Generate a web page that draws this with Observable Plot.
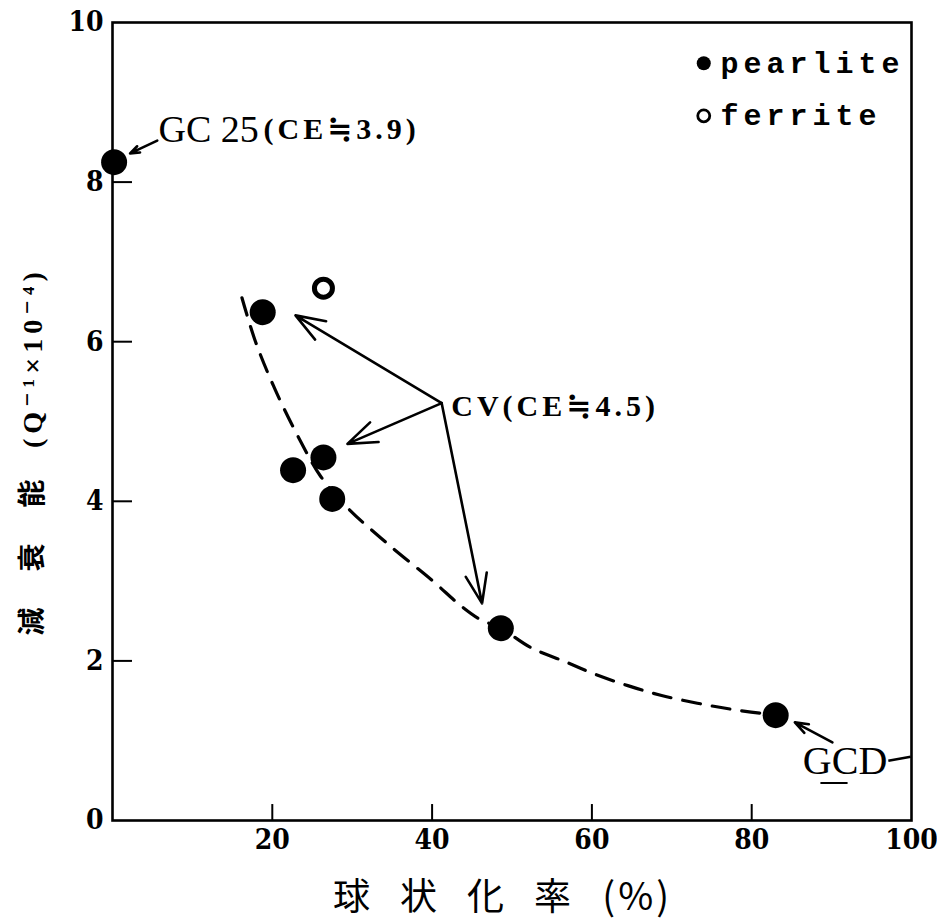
<!DOCTYPE html>
<html>
<head>
<meta charset="utf-8">
<script src="https://cdn.jsdelivr.net/npm/d3@7"></script>
<script src="https://cdn.jsdelivr.net/npm/@observablehq/plot@0.6"></script>
<style>
  body { margin: 0; background: #fff; }
  #chart svg { display: block; }
</style>
</head>
<body>
<div id="chart"></div>
<script>
// ---- data ----
const xTicks = [20, 40, 60, 80, 100];
const yTicks = [0, 2, 4, 6, 8, 10];

// pearlite (filled dots)
const pearliteX = [0.2, 18.8, 22.6, 26.4, 27.5, 48.6, 83.0];
const pearliteY = [8.25, 6.37, 4.39, 4.55, 4.03, 2.41, 1.32];

// ferrite (open circle)
const ferriteX = [26.4];
const ferriteY = [6.67];

// dashed trend curve
const curveX = [16.2, 17.9, 20.4, 23.5, 26.0, 29.4, 34.4, 40.1, 43.6, 46.0, 48.6, 52.3, 56.9, 60.2, 64.5, 68.6, 73.2, 77.7, 83.0];
const curveY = [6.55, 6.00, 5.39, 4.76, 4.32, 3.92, 3.47, 3.00, 2.69, 2.52, 2.41, 2.17, 1.98, 1.84, 1.69, 1.57, 1.47, 1.39, 1.32];

// annotation arrows [x1, y1, x2, y2]
const arrowX1 = [5.6, 41.2, 41.2, 41.2, 90.1];
const arrowY1 = [8.52, 5.23, 5.23, 5.23, 0.98];
const arrowX2 = [2.2, 22.9, 29.4, 46.25, 85.4];
const arrowY2 = [8.36, 6.33, 4.72, 2.72, 1.23];

// legend
const legendLabels = ["pearlite", "ferrite"];
const legendX = [74, 74];
const legendY = [9.49, 8.83];

// ---- build tables ----
const pearlite = pearliteX.map((x, i) => ({x, y: pearliteY[i]}));
const ferrite = ferriteX.map((x, i) => ({x, y: ferriteY[i]}));
const curve = curveX.map((x, i) => ({x, y: curveY[i]}));
const arrows = arrowX1.map((x1, i) => ({x1, y1: arrowY1[i], x2: arrowX2[i], y2: arrowY2[i]}));
const legend = legendLabels.map((label, i) => ({label, x: legendX[i], y: legendY[i]}));

const serif = "'Liberation Serif', 'DejaVu Serif', serif";
const tickFont = "'DejaVu Serif Condensed', 'DejaVu Serif', serif";
const cjk = "'Noto Sans CJK JP', 'Noto Sans CJK SC', sans-serif";

const svg = Plot.plot({
  width: 937,
  height: 923,
  marginLeft: 112,
  marginRight: 26,
  marginTop: 22,
  marginBottom: 103,
  style: {background: "#fff", color: "#000", overflow: "visible"},
  x: {domain: [0, 100]},
  y: {domain: [0, 10]},
  marks: [
    Plot.frame({stroke: "#000", strokeWidth: 2.6}),
    // inward ticks
    Plot.ruleX(xTicks.slice(0, 4), {x: d => d, y1: 0, y2: 0.2, stroke: "#000", strokeWidth: 2}),
    Plot.ruleY(yTicks.slice(1, 5), {y: d => d, x1: 0, x2: 2.5, stroke: "#000", strokeWidth: 2}),
    Plot.axisX(xTicks, {tickSize: 0, tickPadding: 9, label: null, tickFormat: "d", fontSize: 28, fontWeight: "bold", fontFamily: tickFont}),
    Plot.axisY(yTicks, {tickSize: 0, tickPadding: 9, label: null, tickFormat: "d", fontSize: 28, fontWeight: "bold", fontFamily: tickFont}),
    // axis titles
    Plot.text(["球状化率"], {x: () => 27.6, y: () => -0.97, textAnchor: "start", fontSize: 37, fontFamily: cjk}),
    Plot.text(["(%)"], {x: () => 61.3, y: () => -0.97, textAnchor: "start", fontSize: 38, fontFamily: cjk}),
    Plot.text(["減　衰　能"], {x: () => -10.0, y: () => 3.32, rotate: -90, fontSize: 28, fontWeight: "bold", fontFamily: cjk}),
    Plot.text(["(Q⁻¹×10⁻⁴)"], {x: () => -10.0, y: () => 5.8, rotate: -90, fontSize: 28, fontWeight: "bold", fontFamily: serif}),
    // dashed curve
    Plot.line(curve, {x: "x", y: "y", curve: "catmull-rom", stroke: "#000", strokeWidth: 3.2, strokeDasharray: "18,12"}),
    // arrows
    Plot.arrow(arrows, {x1: "x1", y1: "y1", x2: "x2", y2: "y2", stroke: "#000", strokeWidth: 2.6, headLength: 18, headAngle: 40}),
    // points
    Plot.dot(pearlite, {x: "x", y: "y", r: 13, fill: "#000", stroke: "none"}),
    Plot.dot(ferrite, {x: "x", y: "y", r: 9, fill: "none", stroke: "#000", strokeWidth: 5}),
    // annotations
    Plot.text(["GC 25"], {x: () => 5.75, y: () => 8.66, textAnchor: "start", fontSize: 38, fontFamily: serif}),
    Plot.text(["(CE≒3.9)"], {x: () => 18.9, y: () => 8.66, textAnchor: "start", fontSize: 30, fontWeight: "bold", fontFamily: serif}),
    Plot.text(["CV(CE≒4.5)"], {x: () => 42.4, y: () => 5.19, textAnchor: "start", fontSize: 30, fontWeight: "bold", fontFamily: serif}),
    Plot.text(["GCD"], {x: () => 86.4, y: () => 0.74, textAnchor: "start", fontSize: 40, fontFamily: serif}),
    Plot.link([{x1: 97.1, y1: 0.75, x2: 99.9, y2: 0.8}], {x1: "x1", y1: "y1", x2: "x2", y2: "y2", stroke: "#000", strokeWidth: 2.5}),
    Plot.link([{x1: 88.6, y1: 0.47, x2: 92.0, y2: 0.47}], {x1: "x1", y1: "y1", x2: "x2", y2: "y2", stroke: "#000", strokeWidth: 2}),
    // legend
    Plot.dot(legend.slice(0, 1), {x: "x", y: "y", r: 7, fill: "#000"}),
    Plot.dot(legend.slice(1), {x: "x", y: "y", r: 6, fill: "none", stroke: "#000", strokeWidth: 2.8}),
    Plot.text(legend, {x: d => d.x + 2.1, y: "y", text: "label", textAnchor: "start", fontSize: 30, fontWeight: "bold", fontFamily: "'Liberation Mono', 'DejaVu Sans Mono', monospace"})
  ]
});

const s = d3.select(svg);
const spacing = {
  "(CE≒3.9)": "4px",
  "CV(CE≒4.5)": "4px",
  "pearlite": "5px",
  "ferrite": "5px",
  "(Q⁻¹×10⁻⁴)": "5px",
  "減　衰　能": "4px",
  "球状化率": "30px",
  "(%)": "3px"
};
s.selectAll("text").each(function () {
  const t = this.textContent;
  if (spacing[t]) this.style.letterSpacing = spacing[t];
});

document.getElementById("chart").appendChild(svg);
</script>
</body>
</html>
